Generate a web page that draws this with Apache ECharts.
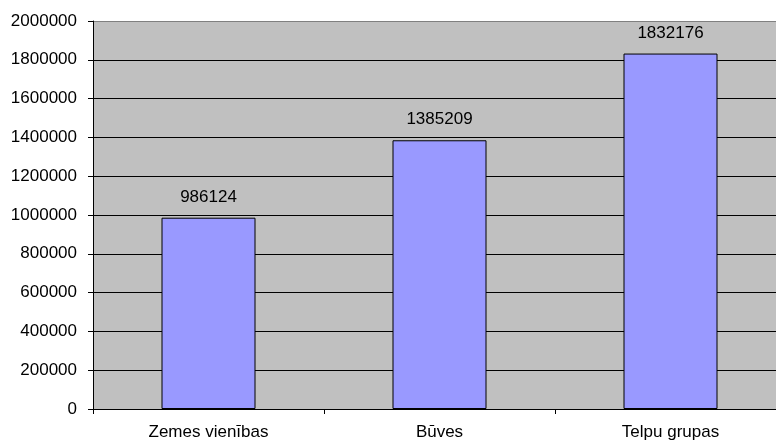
<!DOCTYPE html>
<html>
<head>
<meta charset="utf-8">
<script src="https://cdn.jsdelivr.net/npm/echarts@6/dist/echarts.min.js"></script>
<style>
  html, body { margin: 0; padding: 0; background: #fff; }
  #chart { width: 776px; height: 444px; }
</style>
</head>
<body>
<div id="chart"></div>
<script>
const categories = ['Zemes vienības', 'Būves', 'Telpu grupas']
const values = [986124, 1385209, 1832176]
const yMin = 0
const yMax = 2000000
const yStep = 200000

const chart = echarts.init(document.getElementById('chart'))

// top gridline doubles as plot border, which is gray in the original
const splitColors = []
for (let v = yMin; v <= yMax; v += yStep) {
  splitColors.push(v === yMax ? '#808080' : '#000000')
}

const option = {
  animation: false,
  textStyle: { fontFamily: 'Liberation Sans, Arial, sans-serif' },
  grid: {
    left: 93,
    width: 693,
    top: 21,
    bottom: 35,
    outerBoundsMode: 'none',
    show: true,
    backgroundColor: '#C0C0C0',
    borderWidth: 0
  },
  xAxis: {
    type: 'category',
    data: categories,
    axisLine: { show: true, lineStyle: { color: '#000', width: 1 } },
    axisTick: { show: true, length: 5, lineStyle: { color: '#000' } },
    axisLabel: { color: '#000', fontSize: 17, margin: 15 }
  },
  yAxis: {
    type: 'value',
    min: yMin,
    max: yMax,
    interval: yStep,
    axisLine: { show: true, lineStyle: { color: '#000', width: 1 } },
    axisTick: { show: true, length: 5, lineStyle: { color: '#000' } },
    axisLabel: { color: '#000', fontSize: 17, margin: 16, formatter: v => String(v) },
    splitLine: { show: true, lineStyle: { color: splitColors, width: 1 } }
  },
  series: [
    {
      type: 'bar',
      data: values,
      barWidth: 94,
      itemStyle: { color: '#9999FF', borderColor: '#000', borderWidth: 1 },
      label: {
        show: true,
        position: 'top',
        distance: 12,
        color: '#000',
        fontSize: 17
      }
    }
  ]
}

chart.setOption(option)
</script>
</body>
</html>
